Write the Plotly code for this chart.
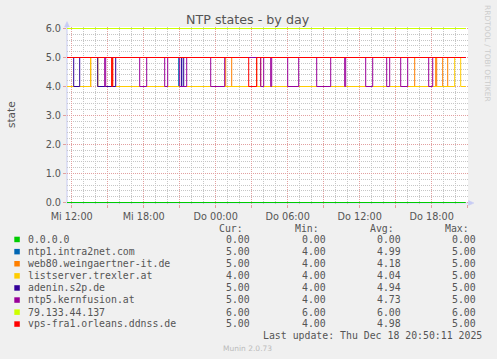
import plotly.graph_objects as go

# ---------------- data ----------------
START = "2025-12-17 11:35"
END = "2025-12-18 20:50"
X_RANGE = ["2025-12-17 11:36:30", "2025-12-18 21:01:30"]
W = "2025-12-17 "
T = "2025-12-18 "

names = ["0.0.0.0", "ntp1.intra2net.com", "web80.weingaertner-it.de",
         "listserver.trexler.at", "adenin.s2p.de", "ntp5.kernfusion.at",
         "79.133.44.137", "vps-fra1.orleans.ddnss.de"]
colors = ["#00CC00", "#0066B3", "#FF8000", "#FFCC00",
          "#330099", "#990099", "#CCFF00", "#FF0000"]
cur = [0.00, 5.00, 5.00, 4.00, 5.00, 5.00, 6.00, 5.00]
mins = [0.00, 4.00, 4.00, 4.00, 4.00, 4.00, 6.00, 4.00]
avgs = [0.00, 4.99, 4.18, 4.04, 4.94, 4.73, 6.00, 4.98]
maxs = [0.00, 5.00, 5.00, 5.00, 5.00, 5.00, 6.00, 5.00]

zero_t = [START, END]
zero_v = [0, 0]
ntp1_t = [START, W + "20:55", W + "21:10", END]
ntp1_v = [5, 4, 5, 5]
web80_t = [START, W + "13:35", W + "14:10", W + "15:20", W + "15:25",
           T + "00:50", T + "01:20", T + "03:25", T + "03:45", T + "16:35",
           T + "18:20", T + "18:25", T + "18:55", T + "19:20", END]
web80_v = [4, 5, 4, 5, 4, 5, 4, 5, 4, 5, 4, 5, 4, 5, 5]
listserver_t = [START, W + "13:35", W + "14:10", T + "19:55", T + "20:25", END]
listserver_v = [4, 5, 4, 5, 4, 4]
adenin_t = [START, W + "12:10", W + "12:40", W + "14:10", W + "15:40",
            W + "21:10", W + "21:20", END]
adenin_v = [5, 4, 5, 4, 5, 4, 5, 5]
ntp5_t = [START, W + "14:45", W + "14:50", W + "17:40", W + "18:15",
          W + "19:45", W + "20:00", W + "21:00", W + "21:35", W + "23:35",
          T + "00:45", T + "03:45", T + "04:00", T + "04:35", T + "04:40",
          T + "06:00", T + "06:55", T + "08:25", T + "09:35", T + "10:45",
          T + "10:50", T + "12:30", T + "13:05", T + "14:15", T + "14:30",
          T + "15:25", T + "16:00", T + "17:45", T + "18:05", END]
ntp5_v = [5, 4, 5, 4, 5, 4, 5, 4, 5, 4, 5, 4, 5, 4, 5,
          4, 5, 4, 5, 4, 5, 4, 5, 4, 5, 4, 5, 4, 5, 5]
six_t = [START, END]
six_v = [6, 6]
vps_t = [START, W + "15:20", W + "15:25", T + "02:45", T + "03:25", END]
vps_v = [5, 4, 5, 4, 5, 5]

series_t = [zero_t, ntp1_t, web80_t, listserver_t, adenin_t, ntp5_t, six_t, vps_t]
series_v = [zero_v, ntp1_v, web80_v, listserver_v, adenin_v, ntp5_v, six_v, vps_v]

x_tickvals = [W + "12:00", W + "15:00", W + "18:00", W + "21:00",
              T + "00:00", T + "03:00", T + "06:00", T + "09:00",
              T + "12:00", T + "15:00", T + "18:00", T + "21:00"]
x_ticktext = ["Mi 12:00", "", "Mi 18:00", "", "Do 00:00", "", "Do 06:00", "",
              "Do 12:00", "", "Do 18:00", ""]
y_tickvals = [0, 1, 2, 3, 4, 5, 6]
y_ticktext = ["0.0", "1.0", "2.0", "3.0", "4.0", "5.0", "6.0"]

# ---------------- layout helpers ----------------
WIDTH, HEIGHT = 497, 359
PL, PR, PT, PB = 67, 468, 27, 204


def px(x):
    return (x - PL) / (PR - PL)


def py(y):
    return (PB - y) / (PB - PT)


TXT = "#555555"
MINOR = "#c6c6c6"
MAJOR = "#e2a0a0"
AXIS = "#c8ccf4"
PAD = 1.5 / 29.0  # keeps the 6.0 and 0.0 lines inside the plot area, crisp rows

fig = go.Figure()
for t, v, c in zip(series_t, series_v, colors):
    fig.add_trace(go.Scatter(x=t, y=v, mode="lines", line=dict(color=c, width=1, shape="hv"),
                             hoverinfo="skip", showlegend=False))

fig.update_layout(
    width=WIDTH, height=HEIGHT,
    margin=dict(l=PL, r=WIDTH - PR, t=PT, b=HEIGHT - PB, pad=0),
    paper_bgcolor="#f0f0f0", plot_bgcolor="#ffffff",
    showlegend=False,
    font=dict(family="DejaVu Sans", size=10, color=TXT),
)
fig.update_xaxes(
    type="date", range=X_RANGE,
    tickmode="array", tickvals=x_tickvals, ticktext=x_ticktext,
    showgrid=True, gridcolor=MAJOR, griddash="1px,1px", gridwidth=1,
    ticks="outside", ticklen=3, tickcolor=MAJOR, tickfont=dict(size=9.7, color=TXT),
    minor=dict(tickmode="linear", tick0=W + "12:00", dtick=3600000, showgrid=True,
               gridcolor=MINOR, griddash="1px,1px", ticklen=0),
    showline=False, zeroline=False, fixedrange=True,
)
fig.update_yaxes(
    range=[-PAD, 6 + PAD],
    tickmode="array", tickvals=y_tickvals, ticktext=y_ticktext,
    showgrid=True, gridcolor=MAJOR, griddash="1px,1px", gridwidth=1,
    ticks="outside", ticklen=3, tickcolor=MAJOR, tickfont=dict(size=9.7, color=TXT),
    minor=dict(tickmode="linear", tick0=0, dtick=0.2, showgrid=True,
               gridcolor=MINOR, griddash="1px,1px", ticklen=0),
    showline=False, zeroline=False, fixedrange=True,
)

shapes = []
# axes lines with arrows
shapes.append(dict(type="line", xref="paper", yref="paper", x0=px(67), x1=px(67),
                   y0=py(203.5), y1=py(24), line=dict(color=AXIS, width=1), layer="below"))
shapes.append(dict(type="path", xref="paper", yref="paper",
                   path=f"M {px(64.5)},{py(27)} L {px(69.5)},{py(27)} L {px(67)},{py(21.5)} Z",
                   fillcolor=AXIS, line=dict(color=AXIS, width=0.5)))
shapes.append(dict(type="line", xref="paper", yref="paper", x0=px(67), x1=px(470),
                   y0=py(203), y1=py(203), line=dict(color=AXIS, width=1), layer="below"))
shapes.append(dict(type="path", xref="paper", yref="paper",
                   path=f"M {px(468.5)},{py(200.5)} L {px(468.5)},{py(205.5)} L {px(474)},{py(203)} Z",
                   fillcolor=AXIS, line=dict(color=AXIS, width=0.5)))

annotations = []
annotations.append(dict(text="NTP states - by day", xref="paper", yref="paper",
                        x=px(248), y=py(19.3), xanchor="center", yanchor="middle",
                        showarrow=False, font=dict(size=12.7, color=TXT)))
annotations.append(dict(text="state", xref="paper", yref="paper",
                        x=px(11), y=py(115), xanchor="center", yanchor="middle",
                        textangle=-90, showarrow=False, font=dict(size=10.5, color=TXT)))
annotations.append(dict(text="RRDTOOL / TOBI OETIKER", xref="paper", yref="paper",
                        x=px(487.5), y=py(53.5), xanchor="center", yanchor="middle",
                        textangle=90, showarrow=False, font=dict(size=7.5, color="#cccccc")))

MONO = "DejaVu Sans Mono"
FS = 9.85
col_right = [250.7, 326.7, 401.7, 476.7]
headers = ["Cur:", "Min:", "Avg:", "Max:"]
for h, xr in zip(headers, col_right):
    annotations.append(dict(text=h, xref="paper", yref="paper", x=px(xr - 5.5), y=py(228.3),
                            xanchor="right", yanchor="middle", showarrow=False,
                            font=dict(family=MONO, size=FS, color=TXT)))

row_y = [239.3, 251.5, 263.6, 275.7, 287.8, 299.9, 312.0, 323.9]
for i, name in enumerate(names):
    yy = row_y[i]
    shapes.append(dict(type="rect", xref="paper", yref="paper",
                       x0=px(14.3), x1=px(19.8), y0=py(yy - 2.6), y1=py(yy + 2.9),
                       fillcolor=colors[i], line=dict(width=0)))
    annotations.append(dict(text=name, xref="paper", yref="paper", x=px(25.5), y=py(yy),
                            xanchor="left", yanchor="middle", showarrow=False,
                            font=dict(family=MONO, size=FS, color=TXT)))
    for vals, xr in zip([cur, mins, avgs, maxs], col_right):
        annotations.append(dict(text=f"{vals[i]:.2f}", xref="paper", yref="paper",
                                x=px(xr + 1), y=py(yy), xanchor="right", yanchor="middle",
                                showarrow=False, font=dict(family=MONO, size=FS, color=TXT)))

annotations.append(dict(text="Last update: Thu Dec 18 20:50:11 2025", xref="paper", yref="paper",
                        x=px(483.5), y=py(335.7), xanchor="right", yanchor="middle",
                        showarrow=False, font=dict(family=MONO, size=FS, color=TXT)))
annotations.append(dict(text="Munin 2.0.73", xref="paper", yref="paper",
                        x=px(247.7), y=py(348.3), xanchor="center", yanchor="middle",
                        showarrow=False, font=dict(size=7.5, color="#bbbbbb")))

fig.update_layout(shapes=shapes, annotations=annotations)
fig.write_html("out.html", config={"displayModeBar": False},
               post_script="document.body.style.margin='0';document.body.style.overflow='hidden';")
